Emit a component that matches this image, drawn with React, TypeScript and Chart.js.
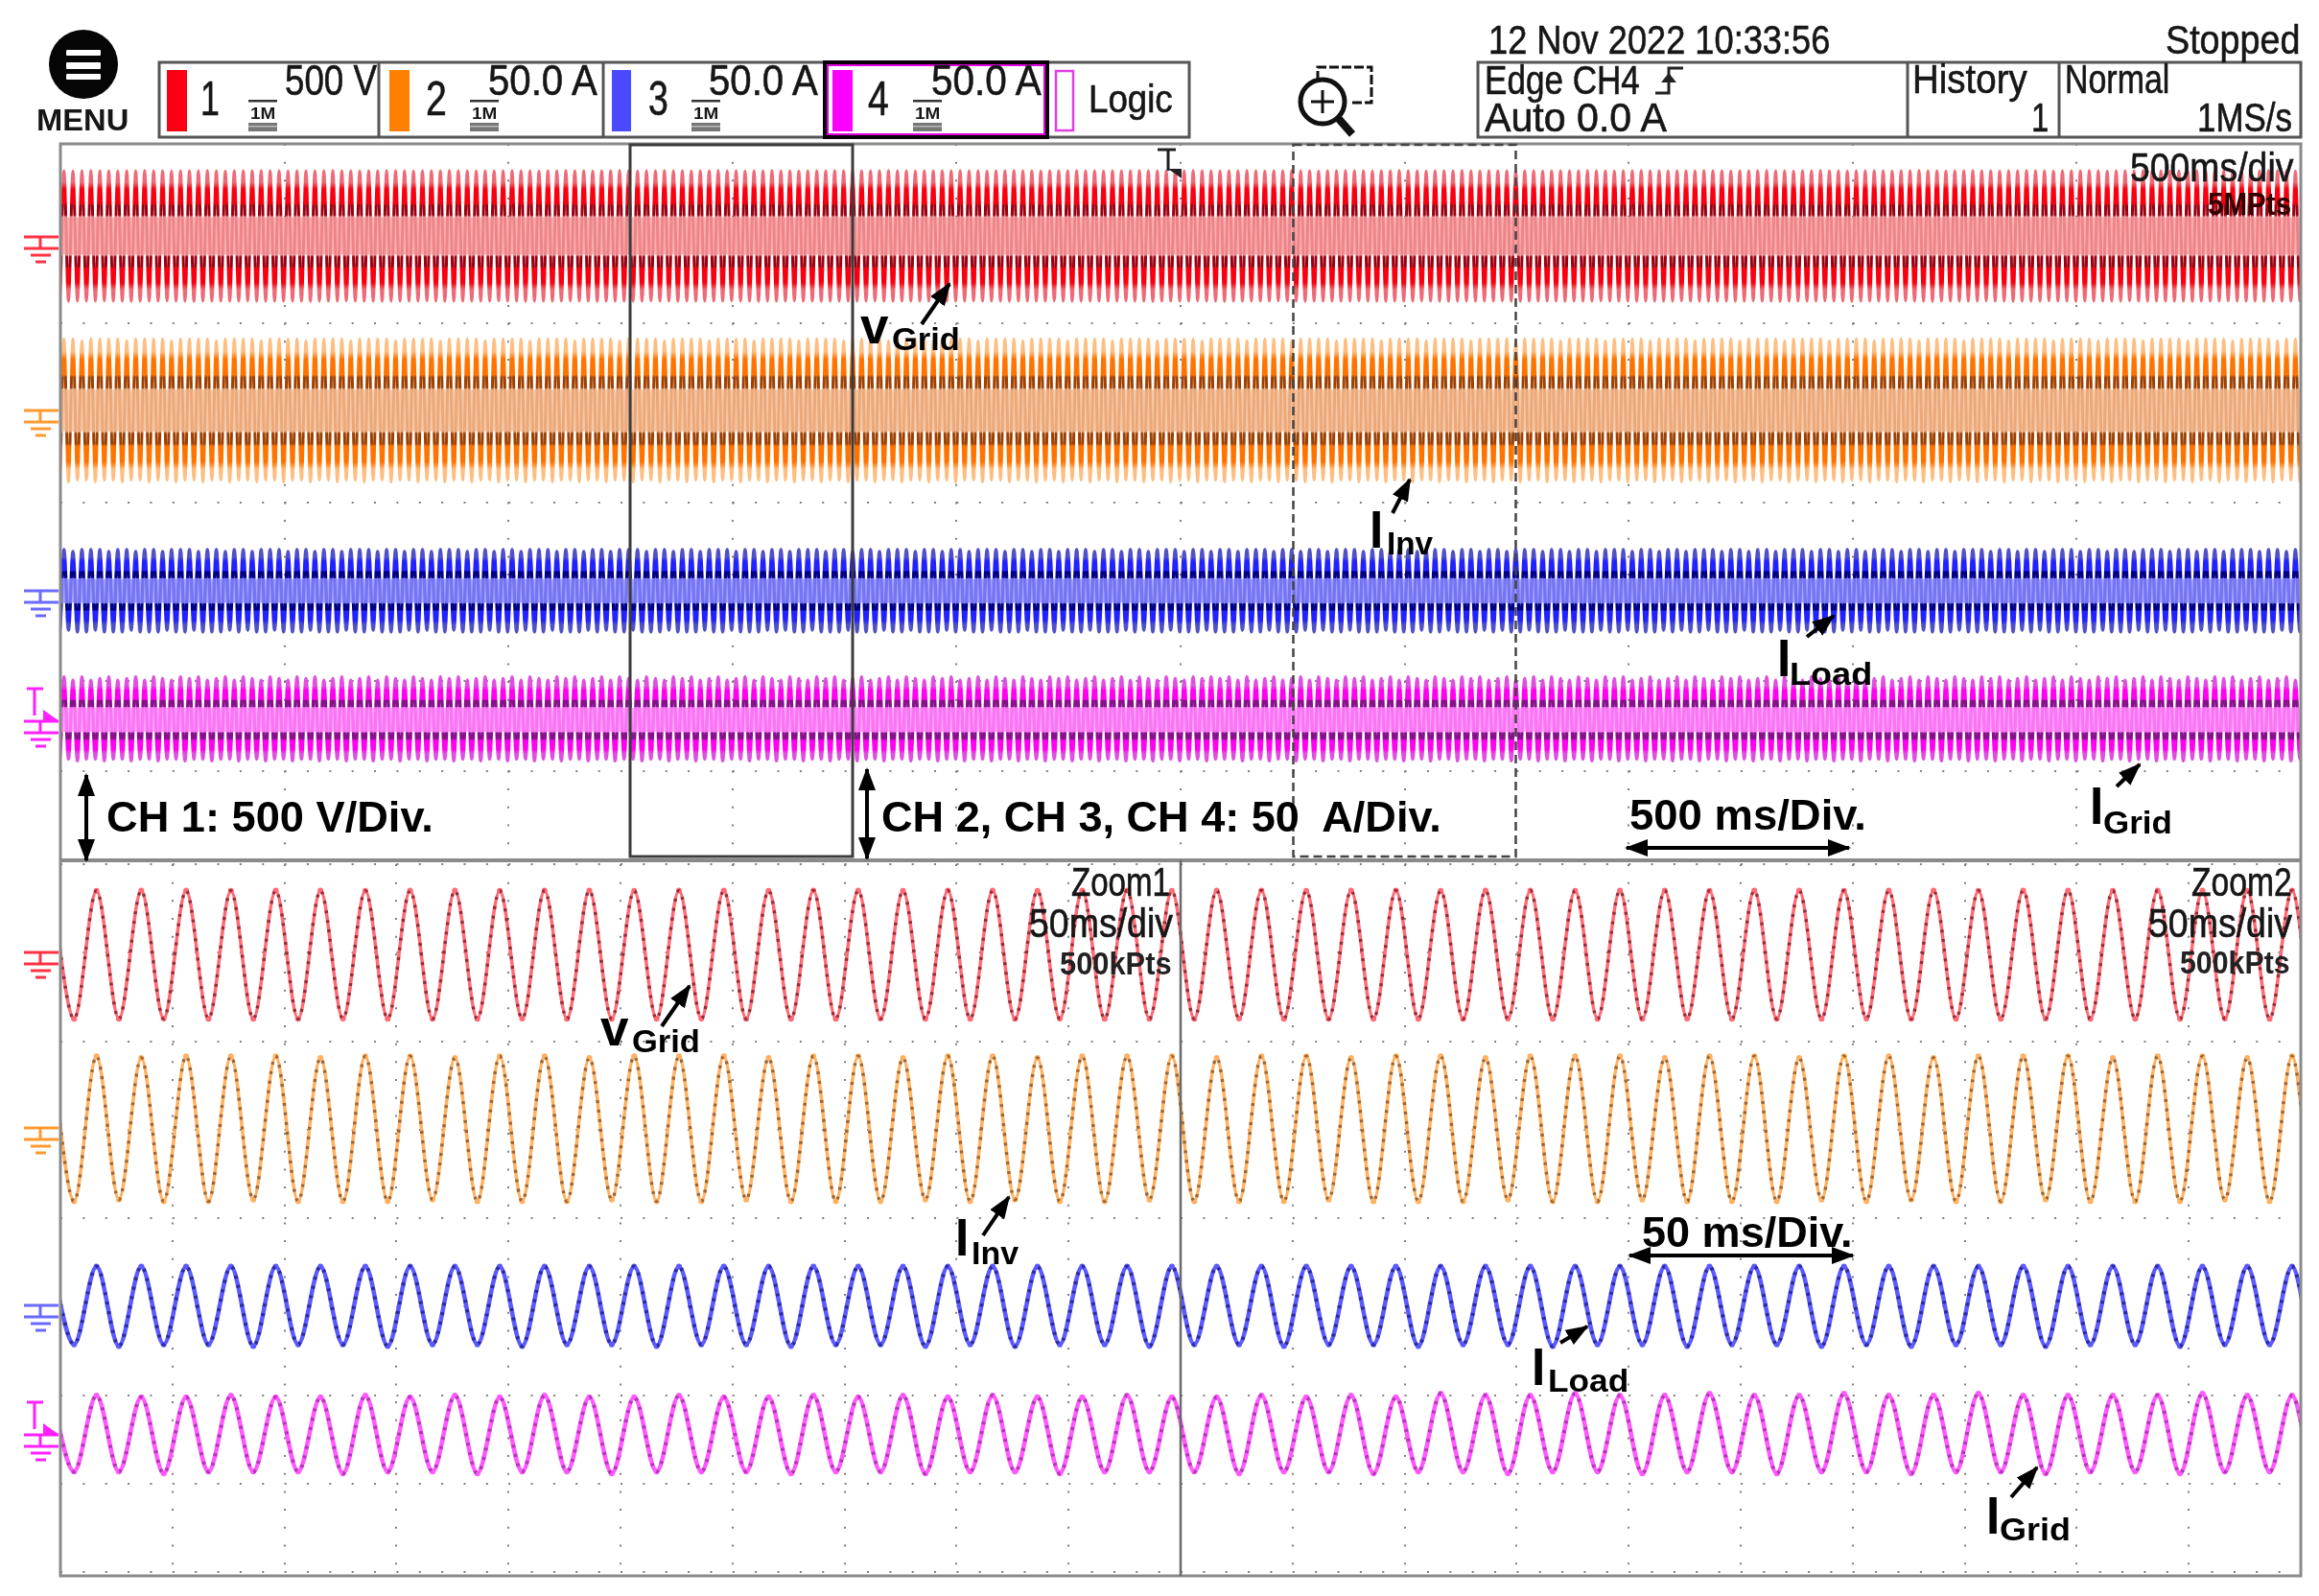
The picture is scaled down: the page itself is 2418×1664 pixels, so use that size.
import React, { useEffect, useRef } from "react";
import { Chart, registerables } from "chart.js";

Chart.register(...registerables);

// Half-cycle extremes (alternating peak, trough).
const ch1Record = [
364,-364,364,-365,363,-364,364,-364,365,-364,364,-363,364,-364,363,-364,364,-365,364,-364,
365,-364,364,-364,364,-363,363,-364,364,-364,364,-365,364,-364,365,-364,364,-364,363,-364,
364,-364,364,-363,364,-364,365,-365,364,-364,364,-364,363,-364,364,-364,364,-365,364,-364,
364,-364,365,-364,364,-363,364,-364,363,-364,364,-364,364,-365,365,-364,364,-364,364,-364,
363,-364,364,-363,364,-364,364,-365,365,-364,364,-364,364,-364,363,-364,364,-364,364,-363,
364,-364,365,-364,364,-365,364,-364,363,-364,364,-364,364,-364,365,-363,364,-364,364,-364,
363,-365,364,-364,364,-364,365,-364,364,-364,363,-364,364,-363,364,-364,365,-364,364,-365,
364,-364,363,-364,364,-364,364,-364,365,-364,364,-363,364,-364,363,-364,364,-365,364,-364,
365,-364,364,-364,364,-363,363,-364,364,-364,364,-365,364,-364,365,-364,364,-364,363,-364,
364,-364,364,-363,364,-364,365,-365,364,-364,364,-364,363,-364,364,-364,364,-365,364,-364,
364,-364,365,-364,364,-363,364,-364,363,-364,364,-364,364,-365,365,-364,364,-364,364,-364,
363,-364,364,-363,364,-364,364,-365,365,-364,364,-364,364,-364,363,-364,364,-364,364,-363,
364,-364,365,-364,364,-365,364,-364,363,-364,364,-364,364,-364,365,-363,364,-364,364,-364,
363,-365,364,-364,364,-364,365,-364,364,-364,363,-364,364,-363,364,-364,365,-364,364,-365,
364,-364,363,-364,364,-364,364,-364,365,-364,364,-363,364,-364,363,-364,364,-365,364,-364,
365,-364,364,-364,364,-363,363,-364,364,-364,364,-365,364,-364,365,-364,364,-364,363,-364,
364,-364,364,-363,364,-364,365,-365,364,-364,364,-364,363,-364,364,-364,364,-365,364,-364,
364,-364,365,-364,364,-363,364,-364,363,-364,364,-364,364,-365,365,-364,364,-364,364,-364,
363,-364,364,-363,364,-364,364,-365,365,-364,364,-364,364,-364,363,-364,364,-364,364,-363,
364,-364,365,-364,364,-365,364,-364,363,-364,364,-364,364,-364,365,-363,364,-364,364,-364,
363,-365,364,-364,364,-364,365,-364,364,-364,363,-364,364,-363,364,-364,365,-364,364,-365,
364,-364,363,-364,364,-364,364,-364,365,-364,364,-363,364,-364,363,-364,364,-365,364,-364,
365,-364,364,-364,364,-363,363,-364,364,-364,364,-365,364,-364,365,-364,364,-364,363,-364,
364,-364,364,-363,364,-364,365,-365,364,-364,364,-364,363,-364,364,-364,364,-365,364,-364,
364,-364,365,-364,364,-363,364,-364,363,-364,364,-364,364,-365,365,-364,364,-364,364,-364,
363,-364,364,-363,364,-364,364,-365,365,-364,364,-364,364,-364,363,-364,364,-364,364,-363,
];
const ch2Record = [
40,-39,40,-40,40,-39,39,-39,40,-40,40,-39,40,-39,40,-40,39,-39,40,-39,
40,-40,40,-39,40,-39,39,-40,40,-39,40,-39,40,-40,40,-39,39,-39,40,-40,
40,-39,40,-39,40,-40,39,-39,40,-39,40,-40,40,-39,40,-39,39,-40,40,-39,
40,-39,40,-40,40,-39,39,-39,40,-40,40,-39,40,-39,40,-40,39,-39,40,-39,
40,-40,40,-39,40,-39,39,-40,40,-39,40,-39,40,-40,40,-39,39,-39,40,-40,
40,-39,40,-39,40,-40,39,-39,40,-39,40,-40,40,-39,40,-39,39,-40,40,-39,
40,-39,40,-40,40,-39,39,-39,40,-40,40,-39,40,-39,40,-40,39,-39,40,-39,
40,-40,40,-39,40,-39,39,-40,40,-39,40,-39,40,-40,40,-39,39,-39,40,-40,
40,-39,40,-39,40,-40,39,-39,40,-39,40,-40,40,-39,40,-39,39,-40,40,-39,
40,-39,40,-40,40,-39,39,-39,40,-40,40,-39,40,-39,40,-40,39,-39,40,-39,
40,-40,40,-39,40,-39,39,-40,40,-39,40,-39,40,-40,40,-39,39,-39,40,-40,
40,-39,40,-39,40,-40,39,-39,40,-39,40,-40,40,-39,40,-39,39,-40,40,-39,
40,-39,40,-40,40,-39,39,-39,40,-40,40,-39,40,-39,40,-40,39,-39,40,-39,
40,-40,40,-39,40,-39,39,-40,40,-39,40,-39,40,-40,40,-39,39,-39,40,-40,
40,-39,40,-39,40,-40,39,-39,40,-39,40,-40,40,-39,40,-39,39,-40,40,-39,
40,-39,40,-40,40,-39,39,-39,40,-40,40,-39,40,-39,40,-40,39,-39,40,-39,
40,-40,40,-39,40,-39,39,-40,40,-39,40,-39,40,-40,40,-39,39,-39,40,-40,
40,-39,40,-39,40,-40,39,-39,40,-39,40,-40,40,-39,40,-39,39,-40,40,-39,
40,-39,40,-40,40,-39,39,-39,40,-40,40,-39,40,-39,40,-40,39,-39,40,-39,
40,-40,40,-39,40,-39,39,-40,40,-39,40,-39,40,-40,40,-39,39,-39,40,-40,
40,-39,40,-39,40,-40,39,-39,40,-39,40,-40,40,-39,40,-39,39,-40,40,-39,
40,-39,40,-40,40,-39,39,-39,40,-40,40,-39,40,-39,40,-40,39,-39,40,-39,
40,-40,40,-39,40,-39,39,-40,40,-39,40,-39,40,-40,40,-39,39,-39,40,-40,
40,-39,40,-39,40,-40,39,-39,40,-39,40,-40,40,-39,40,-39,39,-40,40,-39,
40,-39,40,-40,40,-39,39,-39,40,-40,40,-39,40,-39,40,-40,39,-39,40,-39,
40,-40,40,-39,40,-39,39,-40,40,-39,40,-39,40,-40,40,-39,39,-39,40,-40,
];
const ch3Record = [
23,-23,23,-22,22,-23,23,-23,23,-22,23,-23,22,-23,23,-23,23,-22,22,-23,
23,-23,23,-23,22,-22,23,-23,23,-23,23,-22,22,-23,23,-23,23,-23,22,-22,
23,-23,23,-22,22,-23,23,-23,23,-22,23,-23,22,-23,23,-23,23,-22,22,-23,
23,-23,23,-23,22,-22,23,-23,23,-23,23,-22,22,-23,23,-23,23,-23,22,-22,
23,-23,23,-22,22,-23,23,-23,23,-22,23,-23,22,-23,23,-23,23,-22,22,-23,
23,-23,23,-23,22,-22,23,-23,23,-23,23,-22,22,-23,23,-23,23,-23,22,-22,
23,-23,23,-22,22,-23,23,-23,23,-22,23,-23,22,-23,23,-23,23,-22,22,-23,
23,-23,23,-23,22,-22,23,-23,23,-23,23,-22,22,-23,23,-23,23,-23,22,-22,
23,-23,23,-22,22,-23,23,-23,23,-22,23,-23,22,-23,23,-23,23,-22,22,-23,
23,-23,23,-23,22,-22,23,-23,23,-23,23,-22,22,-23,23,-23,23,-23,22,-22,
23,-23,23,-22,22,-23,23,-23,23,-22,23,-23,22,-23,23,-23,23,-22,22,-23,
23,-23,23,-23,22,-22,23,-23,23,-23,23,-22,22,-23,23,-23,23,-23,22,-22,
23,-23,23,-22,22,-23,23,-23,23,-22,23,-23,22,-23,23,-23,23,-22,22,-23,
23,-23,23,-23,22,-22,23,-23,23,-23,23,-22,22,-23,23,-23,23,-23,22,-22,
23,-23,23,-22,22,-23,23,-23,23,-22,23,-23,22,-23,23,-23,23,-22,22,-23,
23,-23,23,-23,22,-22,23,-23,23,-23,23,-22,22,-23,23,-23,23,-23,22,-22,
23,-23,23,-22,22,-23,23,-23,23,-22,23,-23,22,-23,23,-23,23,-22,22,-23,
23,-23,23,-23,22,-22,23,-23,23,-23,23,-22,22,-23,23,-23,23,-23,22,-22,
23,-23,23,-22,22,-23,23,-23,23,-22,23,-23,22,-23,23,-23,23,-22,22,-23,
23,-23,23,-23,22,-22,23,-23,23,-23,23,-22,22,-23,23,-23,23,-23,22,-22,
23,-23,23,-22,22,-23,23,-23,23,-22,23,-23,22,-23,23,-23,23,-22,22,-23,
23,-23,23,-23,22,-22,23,-23,23,-23,23,-22,22,-23,23,-23,23,-23,22,-22,
23,-23,23,-22,22,-23,23,-23,23,-22,23,-23,22,-23,23,-23,23,-22,22,-23,
23,-23,23,-23,22,-22,23,-23,23,-23,23,-22,22,-23,23,-23,23,-23,22,-22,
23,-23,23,-22,22,-23,23,-23,23,-22,23,-23,22,-23,23,-23,23,-22,22,-23,
23,-23,23,-23,22,-22,23,-23,23,-23,23,-22,22,-23,23,-23,23,-23,22,-22,
];
const ch4Record = [
23,-22,24,-22,22,-23,24,-22,22,-22,23,-23,24,-22,22,-22,23,-23,24,-22,
22,-22,24,-23,23,-22,22,-22,24,-23,23,-22,24,-22,22,-23,23,-22,24,-22,
22,-23,24,-22,23,-22,22,-23,24,-22,23,-22,22,-23,24,-22,23,-22,24,-23,
22,-22,23,-22,24,-23,22,-22,23,-22,24,-23,22,-22,24,-22,23,-23,22,-22,
24,-22,23,-23,22,-22,24,-22,23,-23,24,-22,22,-22,23,-23,24,-22,22,-22,
23,-23,24,-22,22,-22,24,-23,23,-22,22,-22,24,-23,23,-22,24,-22,22,-23,
23,-22,24,-22,22,-23,24,-22,23,-22,22,-23,24,-22,23,-22,22,-23,24,-22,
23,-22,24,-23,22,-22,23,-22,24,-23,22,-22,23,-22,24,-23,22,-22,24,-22,
23,-23,22,-22,24,-22,23,-23,22,-22,24,-22,23,-23,24,-22,22,-22,23,-23,
24,-22,22,-22,23,-23,24,-22,22,-22,24,-23,23,-22,22,-22,24,-23,23,-22,
24,-22,22,-23,23,-22,24,-22,22,-23,24,-22,23,-22,22,-23,24,-22,23,-22,
22,-23,24,-22,23,-22,24,-23,22,-22,23,-22,24,-23,22,-22,23,-22,24,-23,
22,-22,24,-22,23,-23,22,-22,24,-22,23,-23,22,-22,24,-22,23,-23,24,-22,
23,-22,24,-22,22,-23,24,-22,22,-22,23,-23,24,-22,22,-22,23,-23,24,-22,
22,-22,24,-23,23,-22,22,-22,24,-23,23,-22,24,-22,22,-23,23,-22,24,-22,
22,-23,24,-22,23,-22,22,-23,24,-22,23,-22,22,-23,24,-22,23,-22,24,-23,
22,-22,23,-22,24,-23,22,-22,23,-22,24,-23,22,-22,24,-22,23,-23,22,-22,
24,-22,23,-23,22,-22,24,-22,23,-23,24,-22,22,-22,23,-23,24,-22,22,-22,
23,-23,24,-22,22,-22,24,-23,23,-22,22,-22,24,-23,23,-22,24,-22,22,-23,
23,-22,24,-22,22,-23,24,-22,23,-22,22,-23,24,-22,23,-22,22,-23,24,-22,
23,-22,24,-23,22,-22,23,-22,24,-23,22,-22,23,-22,24,-23,22,-22,24,-22,
23,-23,22,-22,24,-22,23,-23,22,-22,24,-22,23,-23,24,-22,22,-22,23,-23,
24,-22,22,-22,23,-23,24,-22,22,-22,24,-23,23,-22,22,-22,24,-23,23,-22,
24,-22,22,-23,23,-22,24,-22,22,-23,24,-22,23,-22,22,-23,24,-22,23,-22,
22,-23,24,-22,23,-22,24,-23,22,-22,23,-22,24,-23,22,-22,23,-22,24,-23,
22,-22,24,-22,23,-23,22,-22,24,-22,23,-23,22,-22,24,-22,23,-23,24,-22,
];

const ch1Zoom = [
362,-362,361,-362,362,-361,362,-362,361,-362,362,-362,362,-361,361,-362,362,-362,362,-362,
361,-361,362,-362,362,-362,361,-362,362,-361,362,-362,361,-362,362,-362,362,-361,361,-362,
362,-362,362,-362,361,-361,362,-362,362,-362,361,-362,362,-361,362,-362,361,-362,362,-362,
362,-362,361,-362,362,-361,362,-362,361,-362,362,-362,362,-361,361,-362,362,-362,362,-362,
361,-361,362,-362,362,-362,361,-362,362,-361,362,-362,361,-362,362,-362,362,-361,361,-362,
362,-362,362,-362,361,-361,362,-362,362,-362,361,-362,362,-361,362,-362,361,-362,362,-362,
];
const ch2Zoom = [
41,-41,41,-40,40,-41,41,-41,41,-40,41,-41,40,-41,41,-41,41,-40,40,-41,
41,-41,41,-41,40,-40,41,-41,41,-41,41,-40,40,-41,41,-41,41,-41,40,-40,
41,-41,41,-40,40,-41,41,-41,41,-40,41,-41,40,-41,41,-41,41,-40,40,-41,
41,-41,41,-41,40,-40,41,-41,41,-41,41,-40,40,-41,41,-41,41,-41,40,-40,
41,-41,41,-40,40,-41,41,-41,41,-40,41,-41,40,-41,41,-41,41,-40,40,-41,
41,-41,41,-41,40,-40,41,-41,41,-41,41,-40,40,-41,41,-41,41,-41,40,-40,
];
const ch3Zoom = [
22,-22,22,-23,22,-22,22,-22,22,-23,22,-22,22,-22,22,-23,22,-22,22,-22,
22,-23,22,-22,22,-22,22,-23,22,-22,22,-22,22,-23,22,-22,22,-22,22,-23,
22,-22,22,-23,22,-22,22,-22,22,-23,22,-22,22,-22,22,-23,22,-22,22,-22,
22,-23,22,-22,22,-22,22,-23,22,-22,22,-22,22,-23,22,-22,22,-22,22,-23,
22,-22,22,-23,22,-22,22,-22,22,-23,22,-22,22,-22,22,-23,22,-22,22,-22,
22,-23,22,-22,22,-22,22,-23,22,-22,22,-22,22,-23,22,-22,22,-22,22,-23,
];
const ch4Zoom = [
21,-21,22,-21,21,-22,21,-21,22,-21,21,-21,21,-22,22,-21,21,-21,22,-22,
21,-21,22,-21,21,-22,21,-21,22,-21,21,-21,21,-22,22,-21,21,-21,22,-22,
21,-21,22,-21,21,-22,21,-21,22,-21,21,-21,21,-22,22,-21,21,-21,22,-22,
21,-21,23,-21,22,-22,22,-21,23,-21,22,-22,22,-21,23,-21,22,-22,22,-21,
23,-21,22,-22,22,-21,23,-21,22,-22,22,-21,22,-21,22,-22,23,-21,22,-21,
22,-22,23,-21,22,-21,22,-21,23,-22,22,-21,22,-21,23,-22,22,-21,22,-21,
];

const recordStartMs = -12;
const zoomStartMs = -3.9;
const halfCycleMs = 10;

const recordGroundDiv = [1.028, 2.977, 4.99, 6.43];
const zoomGroundDiv = [1.023, 2.99, 4.987, 6.445];
const unitsPerDiv = [500, 50, 50, 50];
const recordAmps = [364, 40, 23, 23];
const recordMidBand = [105, 11.6, 6.7, 6.7];

const palettes = [
  { edge: "#ee6a76", outer: "#f8000f", dark: "#9c0010", pale: "#ef8488", band: "#f6aeb0", line: "#ff6a74", dots: "rgba(110,20,30,0.72)" },
  { edge: "#ffbe80", outer: "#ff7400", dark: "#a04000", pale: "#eca878", band: "#f4c8a8", line: "#ffb060", dots: "rgba(100,55,15,0.62)" },
  { edge: "#5050c8", outer: "#2222ff", dark: "#000088", pale: "#7474f4", band: "#a4a4fa", line: "#5a5aff", dots: "rgba(25,25,120,0.72)" },
  { edge: "#e050e0", outer: "#ff00f0", dark: "#88108c", pale: "#fb74f6", band: "#fca4f8", line: "#ff58ff", dots: "rgba(130,30,135,0.6)" },
];

const channelColours = ["#ff3344", "#ff9a30", "#6a6aff", "#ff20ff"];

function toPoints(values: number[], start: number) {
  return values.map((y, i) => ({ x: start + i * halfCycleMs, y }));
}

function bandGradient(ctx: any, id: string, amp: number, p: any) {
  const s = ctx.chart.scales[id];
  if (!s) return p.outer;
  const y0 = s.getPixelForValue(amp);
  const y1 = s.getPixelForValue(-amp);
  if (!Number.isFinite(y0) || !Number.isFinite(y1)) return p.outer;
  const g = ctx.chart.ctx.createLinearGradient(0, y0, 0, y1);
  const stops: [number, string][] = [
    [0, p.edge], [0.09, p.edge], [0.14, p.outer], [0.25, p.outer], [0.27, p.dark], [0.34, p.dark], [0.355, p.pale],
    [0.645, p.pale], [0.66, p.dark], [0.73, p.dark], [0.75, p.outer], [0.86, p.outer], [0.91, p.edge], [1, p.edge],
  ];
  stops.forEach(([o, c]) => g.addColorStop(o, c));
  return g;
}

function axes(xMax: number, xStep: number, dashX: number[], dashY: number[], ground: number[]) {
  const scales: any = {
    x: {
      type: "linear", min: 0, max: xMax, offset: false, position: "bottom",
      ticks: { display: false, stepSize: xStep },
      grid: { color: "#808080", lineWidth: 2, drawTicks: false },
      border: { display: false, dash: dashX },
    },
    y: {
      type: "linear", min: 0, max: 8, position: "left",
      ticks: { display: false, stepSize: 1 },
      grid: { color: "#808080", lineWidth: 2, drawTicks: false },
      border: { display: false, dash: dashY },
    },
  };
  ground.forEach((g, i) => {
    scales["c" + i] = { type: "linear", display: false, min: (g - 8) * unitsPerDiv[i], max: g * unitsPerDiv[i] };
  });
  return scales;
}

function baseOptions(scales: any, pad: any) {
  return {
    responsive: false,
    animation: false as const,
    devicePixelRatio: 1,
    events: [],
    layout: { padding: pad },
    plugins: { legend: { display: false }, tooltip: { enabled: false } },
    scales,
  };
}

function makeRecord(canvas: HTMLCanvasElement) {
  const series = [ch1Record, ch2Record, ch3Record, ch4Record];
  const lineWidths = [3, 3, 3.4, 3.4];
  const datasets: any[] = [];
  series.forEach((v, i) => {
    const h = recordMidBand[i];
    datasets.push({
      label: "CH" + (i + 1) + " mid upper",
      data: [{ x: 0, y: h }, { x: 5000, y: h }],
      yAxisID: "c" + i, xAxisID: "x", pointRadius: 0, borderWidth: 0, fill: false, order: 5,
    });
    datasets.push({
      label: "CH" + (i + 1) + " mid lower",
      data: [{ x: 0, y: -h }, { x: 5000, y: -h }],
      yAxisID: "c" + i, xAxisID: "x", pointRadius: 0, borderWidth: 0, fill: "-1", backgroundColor: palettes[i].band, order: 5,
    });
    datasets.push({
      label: "CH" + (i + 1),
      data: toPoints(v, recordStartMs),
      yAxisID: "c" + i,
      xAxisID: "x",
      cubicInterpolationMode: "monotone",
      pointRadius: 0,
      borderWidth: lineWidths[i],
      order: 1,
      borderColor: (ctx: any) => bandGradient(ctx, "c" + i, recordAmps[i], palettes[i]),
    });
  });
  return new Chart(canvas, {
    type: "line",
    data: { datasets },
    options: baseOptions(axes(5000, 500, [2, 16.67], [2, 21.36], recordGroundDiv), { left: 63, right: 19, top: 0, bottom: 0 }) as any,
  });
}

function makeZoom(canvas: HTMLCanvasElement) {
  const series = [ch1Zoom, ch2Zoom, ch3Zoom, ch4Zoom];
  const widths = [3.5, 3.5, 4.5, 4.5];
  const dotWidths = [3.5, 3.5, 4, 4];
  const datasets: any[] = [];
  series.forEach((v, i) => {
    datasets.push({
      label: "CH" + (i + 1),
      data: toPoints(v, zoomStartMs),
      yAxisID: "c" + i, xAxisID: "x",
      cubicInterpolationMode: "monotone",
      pointRadius: 3,
      pointBorderWidth: 0,
      pointBackgroundColor: palettes[i].line,
      borderWidth: widths[i],
      borderColor: palettes[i].line,
      order: 2,
    });
    datasets.push({
      label: "CH" + (i + 1) + " samples",
      data: toPoints(v, zoomStartMs),
      yAxisID: "c" + i, xAxisID: "x",
      cubicInterpolationMode: "monotone",
      pointRadius: 0,
      borderWidth: dotWidths[i],
      borderDash: [3, 7],
      borderColor: palettes[i].dots,
      order: 1,
    });
  });
  return new Chart(canvas, {
    type: "line",
    data: { datasets },
    options: baseOptions(axes(1000, 50, [2, 16.67], [2, 21.36], zoomGroundDiv), { left: 63, right: 19, top: 0, bottom: 0 }) as any,
  });
}

function T({ x, b, w, s, bold, c, children }: any) {
  const fit = (el: HTMLSpanElement | null) => {
    if (el) {
      el.style.transform = "none";
      el.style.transform = `scaleX(${w / el.offsetWidth})`;
    }
  };
  const style: any = {
    position: "absolute", left: x, top: b - 0.8465 * s, fontSize: s, lineHeight: 1,
    fontFamily: "'Liberation Sans', Arial, sans-serif", fontWeight: bold ? 700 : 400,
    color: c || "#161616", whiteSpace: "pre", transformOrigin: "left top", display: "inline-block",
  };
  if (!bold) style.WebkitTextStroke = "0.6px #161616";
  return <span ref={fit} style={style}>{children}</span>;
}

function Ground({ y, c, trig }: any) {
  return (
    <g stroke={c} strokeWidth="3" fill="none">
      <line x1="25" x2="61" y1={y} y2={y} />
      <line x1="25" x2="61" y1={y + 12} y2={y + 12} />
      <line x1="42" x2="42" y1={y} y2={y + 12} />
      <line x1="32" x2="53" y1={y + 19} y2={y + 19} />
      <line x1="37" x2="48" y1={y + 26} y2={y + 26} />
      {trig && (
        <>
          <line x1="28" x2="45" y1={y - 34} y2={y - 34} />
          <line x1="36" x2="36" y1={y - 34} y2={y - 6} />
          <polygon points={`45,${y - 12} 62,${y} 45,${y}`} fill={c} stroke="none" />
        </>
      )}
    </g>
  );
}

function Arrow({ a, b, c, d, two }: any) {
  return (
    <line x1={a} y1={b} x2={c} y2={d} stroke="#000" strokeWidth="4"
      markerEnd="url(#head)" markerStart={two ? "url(#head)" : undefined} />
  );
}

function Coupling({ x }: any) {
  return (
    <g>
      <rect x={x} y="104" width="30" height="2.5" fill="#333" />
      <rect x={x} y="128" width="30" height="9" fill="#777" />
      <rect x={x} y="131" width="30" height="1.5" fill="#bbb" />
    </g>
  );
}

export default function App() {
  const recordRef = useRef<HTMLCanvasElement>(null);
  const zoomRef = useRef<HTMLCanvasElement>(null);

  useEffect(() => {
    const a = makeRecord(recordRef.current!);
    const b = makeZoom(zoomRef.current!);
    return () => {
      a.destroy();
      b.destroy();
    };
  }, []);

  const frame = "#555";
  return (
    <div style={{ position: "fixed", left: 0, top: 0, width: 2418, height: 1664, background: "#fff", overflow: "hidden" }}>
      <canvas ref={recordRef} width={2418} height={747} style={{ position: "absolute", left: 0, top: 150 }} />
      <canvas ref={zoomRef} width={2418} height={746} style={{ position: "absolute", left: 0, top: 897 }} />

      <svg width="2418" height="1664" style={{ position: "absolute", left: 0, top: 0 }}>
        <defs>
          <marker id="head" markerUnits="userSpaceOnUse" markerWidth="26" markerHeight="20" refX="22" refY="9"
            orient="auto-start-reverse">
            <polygon points="0,0 24,9 0,18" fill="#000" />
          </marker>
        </defs>

        <circle cx="87" cy="67" r="36" fill="#050505" />
        <rect x="69" y="52" width="36" height="6" rx="1" fill="#fff" />
        <rect x="69" y="65" width="36" height="7" rx="1" fill="#fff" />
        <rect x="69" y="77" width="36" height="6" rx="1" fill="#fff" />

        <rect x="166" y="65" width="926" height="78" fill="none" stroke={frame} strokeWidth="3" />
        <rect x="1092" y="65" width="148" height="78" fill="none" stroke={frame} strokeWidth="3" />
        <line x1="395" x2="395" y1="65" y2="143" stroke={frame} strokeWidth="3" />
        <line x1="629" x2="629" y1="65" y2="143" stroke={frame} strokeWidth="3" />
        <rect x="174" y="73" width="21" height="64" fill="#fa0010" />
        <rect x="406" y="73" width="21" height="64" fill="#ff8000" />
        <rect x="638" y="73" width="20" height="64" fill="#4a4aff" />
        <rect x="868" y="73" width="21" height="64" fill="#ff00ff" />
        <rect x="1101" y="74" width="18" height="62" fill="none" stroke="#e040e0" strokeWidth="2.5" />
        <rect x="860" y="65" width="232" height="78" fill="none" stroke="#0a000a" strokeWidth="4" />
        <rect x="863" y="68" width="226" height="72" fill="none" stroke="#e000e0" strokeWidth="2" />
        <Coupling x={259} />
        <Coupling x={490} />
        <Coupling x={721} />
        <Coupling x={952} />

        <circle cx="1379" cy="106" r="23" fill="none" stroke="#111" strokeWidth="5" />
        <line x1="1379" x2="1379" y1="94" y2="118" stroke="#111" strokeWidth="3" />
        <line x1="1367" x2="1391" y1="106" y2="106" stroke="#111" strokeWidth="3" />
        <line x1="1396" y1="124" x2="1410" y2="140" stroke="#111" strokeWidth="8" />
        <path d="M1374 84 V70 H1430 V107 H1410" fill="none" stroke="#111" strokeWidth="3" strokeDasharray="10 3" />

        <rect x="1541" y="65" width="858" height="78" fill="none" stroke={frame} strokeWidth="3" />
        <line x1="1989" x2="1989" y1="65" y2="143" stroke={frame} strokeWidth="3" />
        <line x1="2147" x2="2147" y1="65" y2="143" stroke={frame} strokeWidth="3" />
        <path d="M1726 97 H1740 V71 H1755" fill="none" stroke="#222" strokeWidth="3" />
        <polygon points="1732,86 1748,86 1740,76" fill="#222" />

        <rect x="63" y="150" width="2336" height="1493" fill="none" stroke="#8a8a8a" strokeWidth="3" />
        <line x1="63" x2="2399" y1="897" y2="897" stroke="#8a8a8a" strokeWidth="4" />
        <line x1="1231" x2="1231" y1="897" y2="1643" stroke="#6a6a6a" strokeWidth="2.5" />

        <rect x="657" y="151" width="232" height="742" fill="none" stroke="#3c3c3c" strokeWidth="3" />
        <rect x="1348.5" y="151" width="232" height="742" fill="none" stroke="#444" strokeWidth="2.5" strokeDasharray="9 5" />

        <path d="M1207 156 H1226 M1218 156 V178" stroke="#222" strokeWidth="3" fill="none" />
        <polygon points="1218,176 1232,176 1232,186" fill="#222" />

        <Ground y={247} c={channelColours[0]} />
        <Ground y={428} c={channelColours[1]} />
        <Ground y={616} c={channelColours[2]} />
        <Ground y={752} c={channelColours[3]} trig />
        <Ground y={993} c={channelColours[0]} />
        <Ground y={1176} c={channelColours[1]} />
        <Ground y={1361} c={channelColours[2]} />
        <Ground y={1496} c={channelColours[3]} trig />

        <Arrow a={961} b={338} c={990} d={296} />
        <Arrow a={690} b={1070} c={719} d={1028} />
        <Arrow a={1452} b={535} c={1470} d={500} />
        <Arrow a={1025} b={1288} c={1052} d={1248} />
        <Arrow a={1884} b={664} c={1912} d={642} />
        <Arrow a={1627} b={1400} c={1655} d={1383} />
        <Arrow a={2207} b={820} c={2231} d={797} />
        <Arrow a={2097} b={1561} c={2124} d={1530} />
        <Arrow a={90} b={808} c={90} d={897} two />
        <Arrow a={904} b={802} c={904} d={895} two />
        <Arrow a={1696} b={884} c={1928} d={884} two />
        <Arrow a={1699} b={1309} c={1932} d={1309} two />
      </svg>

      <T x={38} b={136} w={96} s={31} bold>MENU</T>
      <T x={209} b={120} w={20} s={50}>1</T>
      <T x={444} b={120} w={22} s={50}>2</T>
      <T x={676} b={120} w={21} s={50}>3</T>
      <T x={905} b={120} w={22} s={50}>4</T>
      <T x={297} b={99} w={96} s={44}>500 V</T>
      <T x={509} b={99} w={114} s={44}>50.0 A</T>
      <T x={739} b={99} w={114} s={44}>50.0 A</T>
      <T x={971} b={99} w={115} s={44}>50.0 A</T>
      <T x={261} b={125} w={26} s={16} bold>1M</T>
      <T x={492} b={125} w={26} s={16} bold>1M</T>
      <T x={723} b={125} w={26} s={16} bold>1M</T>
      <T x={954} b={125} w={26} s={16} bold>1M</T>
      <T x={1135} b={117} w={88} s={40}>Logic</T>

      <T x={1552} b={57} w={356} s={42}>12 Nov 2022 10:33:56</T>
      <T x={2258} b={57} w={140} s={42}>Stopped</T>
      <T x={1548} b={99} w={162} s={42}>Edge CH4</T>
      <T x={1548} b={138} w={190} s={42}>Auto 0.0 A</T>
      <T x={1994} b={98} w={120} s={42}>History</T>
      <T x={2118} b={138} w={18} s={42}>1</T>
      <T x={2153} b={98} w={109} s={42}>Normal</T>
      <T x={2291} b={138} w={99} s={42}>1MS/s</T>

      <T x={2221} b={190} w={170} s={42}>500ms/div</T>
      <T x={2302} b={224} w={87} s={33} bold c="#300">5MPts</T>
      <T x={1117} b={935} w={103} s={42}>Zoom1</T>
      <T x={1073} b={978} w={150} s={42}>50ms/div</T>
      <T x={1105} b={1016} w={117} s={34} bold c="#222">500kPts</T>
      <T x={2285} b={935} w={105} s={42}>Zoom2</T>
      <T x={2240} b={978} w={150} s={42}>50ms/div</T>
      <T x={2273} b={1015} w={115} s={34} bold c="#222">500kPts</T>

      <T x={111} b={867} w={341} s={44} bold c="#000">CH 1: 500 V/Div.</T>
      <T x={919} b={867} w={584} s={44} bold c="#000">CH 2, CH 3, CH 4: 50  A/Div.</T>
      <T x={1699} b={865} w={247} s={44} bold c="#000">500 ms/Div.</T>
      <T x={1712} b={1300} w={219} s={44} bold c="#000">50 ms/Div.</T>

      <T x={897} b={358} w={29} s={53} bold c="#000">v</T>
      <T x={930} b={365} w={71} s={34} bold c="#000">Grid</T>
      <T x={626} b={1090} w={29} s={53} bold c="#000">v</T>
      <T x={659} b={1097} w={71} s={34} bold c="#000">Grid</T>
      <T x={1428} b={572} w={14} s={55} bold c="#000">I</T>
      <T x={1446} b={578} w={48} s={34} bold c="#000">Inv</T>
      <T x={996} b={1310} w={14} s={55} bold c="#000">I</T>
      <T x={1013} b={1318} w={49} s={34} bold c="#000">Inv</T>
      <T x={1853} b={706} w={14} s={55} bold c="#000">I</T>
      <T x={1866} b={714} w={86} s={34} bold c="#000">Load</T>
      <T x={1597} b={1445} w={14} s={55} bold c="#000">I</T>
      <T x={1614} b={1451} w={84} s={34} bold c="#000">Load</T>
      <T x={2179} b={860} w={14} s={55} bold c="#000">I</T>
      <T x={2193} b={869} w={72} s={34} bold c="#000">Grid</T>
      <T x={2071} b={1600} w={14} s={55} bold c="#000">I</T>
      <T x={2085} b={1606} w={74} s={34} bold c="#000">Grid</T>
    </div>
  );
}
